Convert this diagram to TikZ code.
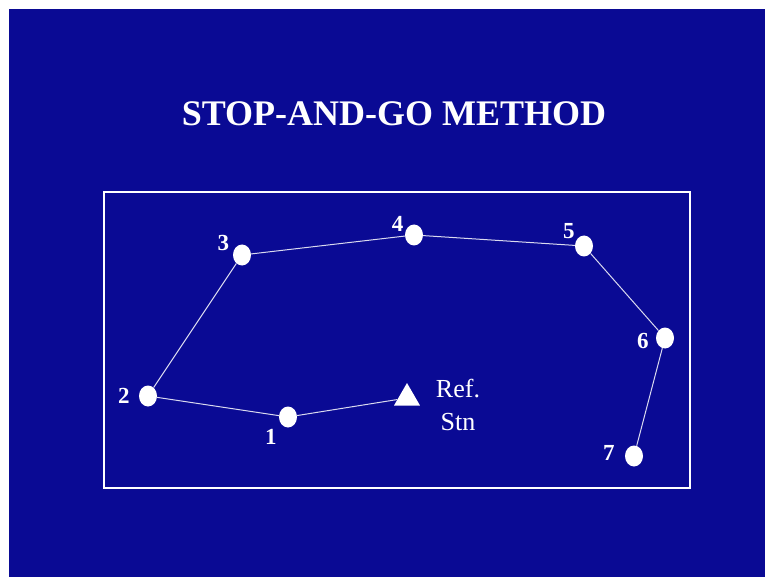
\documentclass[tikz,border=0pt]{standalone}
\usepackage{fontspec}
\setmainfont{Liberation Serif}
\usepackage{xcolor}
\usetikzlibrary{shapes.geometric}
\definecolor{slideblue}{RGB}{10,10,148}

\begin{document}
\begin{tikzpicture}[x=1pt, y=-1pt,
        % Define a style for the stations
        station/.style={fill=white, ellipse, minimum width=18pt, minimum height=21pt, inner sep=0pt},
        refstn/.style={fill=white, regular polygon, regular polygon sides=3, minimum size=30pt, inner sep=0pt},
        lbl/.style={text=white, font=\bfseries\fontsize{23}{26}\selectfont, inner sep=0pt},
        leg/.style={white!85!slideblue, line width=1pt}]

        % 1. Slide background and frame
        \useasboundingbox (0,0) rectangle (765,577);
        \fill[slideblue] (9,9) rectangle (765,577);
        \draw[white, line width=1.8pt] (104,192) rectangle (690,488);

        % 2. Title
        \node[text=white, font=\bfseries\fontsize{36}{40}\selectfont, anchor=base] (title) at (394,126) {STOP-AND-GO METHOD};

        % 3. The stations and the reference station
        \node[refstn] (ref) at (407,398) {};
        \node[station, label={[lbl, label distance=6pt, yshift=-1pt]225:1}] (s1) at (288,417) {};
        \node[station, label={[lbl, label distance=9pt]180:2}] (s2) at (148,396) {};
        \node[station, label={[lbl, label distance=5pt, yshift=-3pt]150:3}] (s3) at (242,255) {};
        \node[station, label={[lbl, label distance=3pt, yshift=-4pt]145:4}] (s4) at (414,235) {};
        \node[station, label={[lbl, label distance=3pt, yshift=-2pt]135:5}] (s5) at (584,246) {};
        \node[station, label={[lbl, label distance=7pt, yshift=-3pt]180:6}] (s6) at (665,338) {};
        \node[station, label={[lbl, label distance=10pt, yshift=3pt]180:7}] (s7) at (634,456) {};
        \node[text=white, align=center, font=\fontsize{26}{33}\selectfont, inner sep=0pt] (stn) at (458,405) {Ref.\\Stn};

        % 4. Connect the stations
        \draw[leg] (s7) -- (s6) -- (s5) -- (s4) -- (s3) -- (s2) -- (s1) -- (ref);

    \end{tikzpicture}
\end{document}
